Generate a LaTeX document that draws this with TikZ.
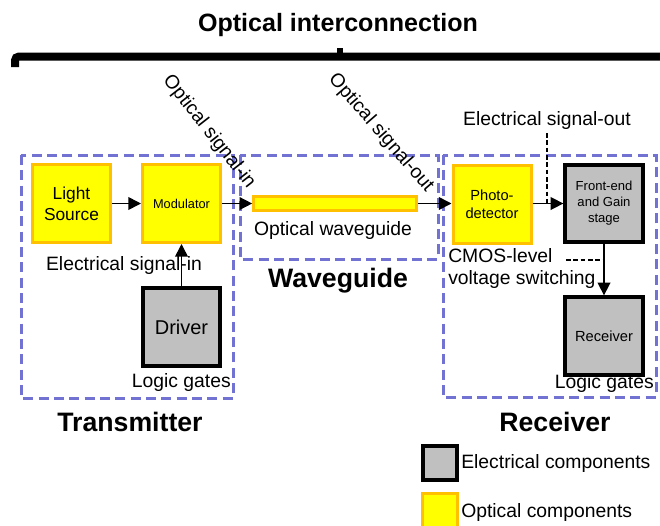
\documentclass[tikz,border=0pt]{standalone}
\usepackage{fontspec}
\setmainfont{Liberation Sans}
\usetikzlibrary{arrows.meta,positioning}

\definecolor{optfill}{HTML}{FFFF00}
\definecolor{optline}{HTML}{FFC000}
\definecolor{elecfill}{HTML}{C0C0C0}
\definecolor{groupline}{HTML}{7272D2}

\begin{document}
\begin{tikzpicture}[x=0.75pt,y=-0.75pt,>=Triangle,
    optbox/.style={draw=optline,fill=optfill,line width=2.25pt,minimum width=58.5pt,minimum height=58.5pt,inner sep=0pt,align=center},
    elecbox/.style={draw=black,fill=elecfill,line width=3pt,minimum width=58pt,minimum height=58pt,inner sep=0pt,align=center},
    group/.style={draw=groupline,line width=2.25pt,dash pattern=on 7.5pt off 4pt},
    arr/.style={->,line width=1.2pt,arrows={-Triangle[length=9.5pt,width=9.5pt]}},
    sig/.style={line width=0.9pt,dash pattern=on 3.5pt off 2pt},
    lbl/.style={inner sep=0pt,font=\fontsize{14.5}{16.5}\selectfont},
    head/.style={inner sep=0pt,font=\fontsize{20}{24}\selectfont\bfseries}]
            \clip (0,0) rectangle (660,525);
            \fill[white] (0,0) rectangle (660,525);
            \node[inner sep=0pt,font=\fontsize{18.8}{22}\selectfont\bfseries] (title) at (338,25) {Optical interconnection};
            \draw[line width=6pt,rounded corners=3pt] (15,67) |- (664,56.5);
            \fill (337,48) rectangle (343,57);
            \draw[group] (21,155) rectangle (233,398);
            \draw[group] (240,155) rectangle (438,259);
            \draw[group] (443,155) rectangle (656,397);
            \node[optbox,font=\fontsize{13}{15.5}\selectfont] (light) at (71.5,203.5) {Light\\Source};
            \node[optbox,font=\fontsize{9.6}{11}\selectfont] (mod) at (181.5,203.5) {Modulator};
            \node[elecbox,font=\fontsize{15}{17}\selectfont] (driver) at (181.5,327) {Driver};
            \node[draw=optline,fill=optfill,line width=2.25pt,minimum width=122pt,minimum height=10.5pt,inner sep=0pt] (wg) at (335,203.5) {};
            \node[optbox,font=\fontsize{11}{13.5}\selectfont] (pd) at (492,204) {Photo-\\detector};
            \node[elecbox,font=\fontsize{9.8}{12}\selectfont] (fe) at (604,203.5) {Front-end\\and Gain\\stage};
            \node[elecbox,font=\fontsize{11}{13}\selectfont] (rx) at (604,336) {Receiver};
            \draw[arr] (light) -- (mod);
            \draw[arr] (mod) -- (wg);
            \draw[arr] (driver) -- (mod);
            \draw[arr] (wg.east) -- (wg.east -| pd.west);
            \draw[arr] (pd.east |- fe.west) -- (fe.west);
            \draw[arr] (fe) -- (rx);
            \coordinate (sigout) at (547,133);
            \draw[sig] (sigout) -- (sigout |- fe.west);
            \coordinate (cmos) at (566,260);
            \draw[sig] (cmos) -- (cmos -| fe.south);
            \node[lbl] (sigin) at (124,265) {Electrical signal-in};
            \node[lbl,anchor=east] (txlogic) at (231,382) {Logic gates};
            \node[lbl] (wglabel) at (333,230) {Optical waveguide};
            \node[lbl,anchor=north west,align=left] (cmoslabel) at (448,248) {CMOS-level\\voltage switching};
            \node[lbl] (outlabel) at (547,120) {Electrical signal-out};
            \node[lbl,anchor=east] (rxlogic) at (654,383) {Logic gates};
            \node[lbl,rotate=-52] (optin) at (209,132) {Optical signal-in};
            \node[lbl,rotate=-49] (optout) at (381,133) {Optical signal-out};
            \node[head] (tx) at (130,422) {Transmitter};
            \node[head] (wghead) at (338,281) {Waveguide};
            \node[head] (rxhead) at (555,422) {Receiver};
            \node[draw=black,fill=elecfill,line width=3pt,minimum size=25.5pt,inner sep=0pt] (legelec) at (440,462.5) {};
            \node[lbl,anchor=west] (legelectext) at (461,463) {Electrical components};
            \node[draw=optline,fill=optfill,line width=2.25pt,minimum size=26pt,inner sep=0pt] (legopt) at (440,511) {};
            \node[lbl,anchor=west] (legopttext) at (461,512) {Optical components};
        \end{tikzpicture}
\end{document}
